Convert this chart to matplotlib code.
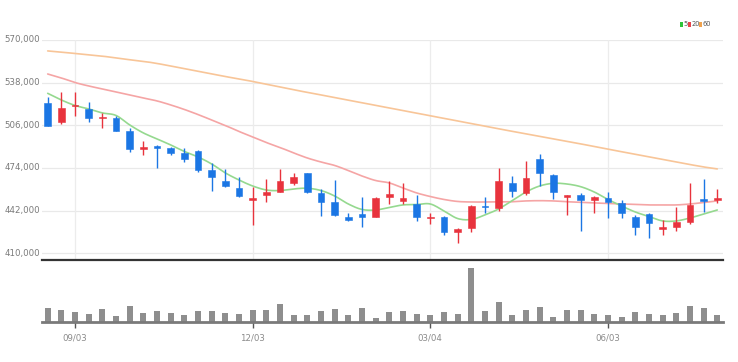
import matplotlib
matplotlib.use("Agg")
import matplotlib.pyplot as plt
import numpy as np
from matplotlib.patches import Rectangle
from matplotlib.transforms import ScaledTranslation

# ---- data (prices in thousands of won, weekly candles) ----
opens = [523.1, 508.3, 520.3, 518.0, 511.3, 511.7, 502.0, 488.0, 490.5, 488.8,
         485.0, 487.0, 472.5, 464.3, 458.8, 450.0, 453.8, 455.8, 463.0, 470.0,
         455.5, 448.3, 437.5, 439.5, 437.5, 452.0, 449.3, 446.8, 436.3, 437.5,
         426.2, 428.8, 445.7, 443.8, 462.5, 455.0, 480.8, 468.8, 452.3, 453.8,
         450.0, 451.7, 448.0, 437.5, 439.5, 428.0, 430.0, 433.7, 450.5, 449.8]
highs = [526.9, 530.8, 530.8, 523.3, 515.0, 512.8, 504.2, 494.3, 490.9, 490.0,
         488.8, 487.5, 477.5, 473.0, 467.5, 460.0, 465.5, 473.0, 470.0, 470.5,
         458.0, 465.0, 440.5, 452.0, 452.3, 464.3, 462.5, 453.8, 440.5, 438.2,
         429.2, 446.0, 452.5, 474.2, 468.0, 479.3, 484.3, 469.3, 453.8, 455.0,
         453.2, 456.2, 450.0, 438.8, 440.0, 435.0, 444.5, 463.0, 465.5, 458.0]
lows = [505.5, 506.8, 513.2, 508.7, 504.2, 501.8, 486.2, 483.8, 473.8, 483.8,
        478.7, 470.8, 457.0, 459.5, 452.5, 431.3, 448.7, 455.8, 461.3, 455.5,
        438.0, 438.0, 434.5, 429.5, 437.3, 446.8, 446.8, 434.3, 431.8, 423.8,
        417.5, 425.8, 440.5, 441.8, 452.0, 453.8, 460.7, 450.8, 438.8, 426.8,
        440.0, 436.7, 436.3, 423.8, 421.7, 423.8, 426.8, 432.0, 441.2, 447.5]
closes = [505.5, 519.2, 521.0, 511.3, 512.5, 502.0, 488.3, 490.0, 489.2, 485.0,
          480.8, 472.5, 467.0, 460.7, 453.0, 451.3, 455.8, 464.5, 467.0, 455.8,
          448.3, 438.8, 435.0, 437.5, 451.7, 454.3, 451.3, 437.5, 437.5, 426.2,
          428.3, 445.7, 444.5, 464.3, 457.0, 466.7, 470.0, 455.8, 453.8, 450.0,
          452.5, 448.3, 440.0, 429.5, 432.5, 429.5, 433.3, 446.3, 449.5, 451.3]
ma5 = [530.0, 525.0, 520.9, 518.3, 515.3, 513.4, 506.3, 500.3, 495.8, 491.3,
       486.4, 482.3, 477.0, 470.3, 465.0, 460.5, 457.5, 457.1, 458.3, 458.8,
       457.1, 453.0, 447.0, 442.9, 442.5, 444.4, 446.3, 446.6, 447.0, 441.8,
       436.1, 435.4, 438.8, 443.3, 449.6, 456.0, 460.5, 462.5, 462.0, 460.0,
       456.0, 450.4, 445.5, 441.0, 437.6, 434.3, 434.3, 436.5, 439.5, 442.5]
ma20 = [544.5, 541.5, 538.1, 535.5, 533.3, 531.0, 528.8, 526.5, 524.3, 521.3,
        517.9, 514.1, 510.0, 505.9, 501.4, 497.3, 493.1, 489.4, 485.3, 481.5,
        478.5, 475.9, 472.1, 468.0, 464.6, 462.8, 459.0, 455.3, 452.6, 450.4,
        448.9, 448.5, 448.5, 448.5, 448.7, 449.3, 449.5, 449.3, 448.7, 448.3,
        447.8, 447.4, 447.0, 446.6, 446.3, 446.3, 446.3, 447.0, 448.1, 449.3]
ma60 = [561.8, 560.9, 559.9, 558.9, 557.9, 556.5, 555.2, 554.0, 552.4, 550.5,
        548.5, 546.5, 544.6, 542.6, 540.8, 538.9, 536.8, 534.8, 532.7, 530.7,
        528.8, 526.8, 524.9, 522.9, 521.0, 519.0, 517.1, 515.1, 513.2, 511.2,
        509.3, 507.3, 505.4, 503.4, 501.5, 499.7, 497.8, 495.9, 494.0, 492.1,
        490.1, 488.1, 486.2, 484.2, 482.3, 480.4, 478.5, 476.6, 474.8, 473.3]
volumes = [43, 36, 30, 25, 40, 18, 47, 27, 32, 27, 22, 32, 32, 27, 25, 37, 37, 55,
           20, 22, 32, 40, 20, 43, 12, 30, 32, 25, 22, 30, 25, 160, 32, 60, 22, 37,
           45, 15, 37, 37, 25, 22, 15, 30, 25, 22, 27, 47, 43, 20]
tick_idx = [2, 15, 28, 41]
tick_labels = ["09/03", "12/03", "03/04", "06/03"]
y_ticks = [410000, 442000, 474000, 506000, 538000, 570000]

UP = "#e8333d"
DOWN = "#1b76e4"
NARROW = ["Liberation Sans Narrow", "DejaVu Sans"]

fig = plt.figure(figsize=(7.38, 3.62), dpi=100)
fig.patch.set_facecolor("white")

ax = fig.add_axes([41.7 / 738, 1 - 260 / 362, (723 - 41.7) / 738, 220 / 362])
axv = fig.add_axes([41.7 / 738, 1 - 322 / 362, (723 - 41.7) / 738, 54 / 362])

n = len(closes)
xs = np.arange(n)
k = 1000.0

# grid
for yv in y_ticks:
    ax.axhline(yv, color="#e9e9e9", lw=0.9, zorder=0)
for ti in tick_idx:
    ax.axvline(ti, color="#ececec", lw=0.9, zorder=0)


def smooth(x, y, m=8):
    x = np.asarray(x, float)
    y = np.asarray(y, float)
    px = np.concatenate([[2 * x[0] - x[1]], x, [2 * x[-1] - x[-2]]])
    py = np.concatenate([[2 * y[0] - y[1]], y, [2 * y[-1] - y[-2]]])
    ox, oy = [], []
    t = np.linspace(0, 1, m, endpoint=False)
    for i in range(1, len(px) - 2):
        for P, out in ((py[i - 1:i + 3], oy), (px[i - 1:i + 3], ox)):
            a, b, c, d = P
            out.extend(0.5 * ((2 * b) + (-a + c) * t + (2 * a - 5 * b + 4 * c - d) * t ** 2
                              + (-a + 3 * b - 3 * c + d) * t ** 3))
    ox.append(x[-1])
    oy.append(y[-1])
    return np.array(ox), np.array(oy)


for series, col in ((ma60, "#f8c598"), (ma20, "#f5a5a5"), (ma5, "#95d98f")):
    sx, sy = smooth(xs, np.array(series) * k)
    ax.plot(sx, sy, color=col, lw=1.2, zorder=2, solid_capstyle="round")

bw = 0.48
for i in range(n):
    o, h, l, c = opens[i] * k, highs[i] * k, lows[i] * k, closes[i] * k
    col = UP if c >= o else DOWN
    ax.vlines(i, l, h, color=col, lw=1.0, zorder=3)
    bot = min(o, c)
    hgt = max(abs(c - o), 900)
    ax.add_patch(Rectangle((i - bw / 2, bot), bw, hgt, facecolor=col,
                           edgecolor=col, lw=0.4, zorder=4))

ax.set_xlim(-0.44, n - 1 + 0.42)
ax.set_ylim(405000, 570000)
ax.set_xticks([])
ax.set_yticks([])
for s in ("top", "left", "right"):
    ax.spines[s].set_visible(False)
ax.spines["bottom"].set_color("#333333")
ax.spines["bottom"].set_linewidth(1.6)

lab_tr = ax.get_yaxis_transform() + ScaledTranslation(-2 / 100, 0, fig.dpi_scale_trans)
for yv in y_ticks:
    ax.text(0, yv, f"{yv:,}", transform=lab_tr, clip_on=False,
            ha="right", va="center", fontsize=6.2, color="#7a7a7a", family=NARROW)

# volume
axv.bar(xs, volumes, width=0.44, color="#8e8e8e", zorder=2)
axv.set_xlim(-0.44, n - 1 + 0.42)
axv.set_ylim(0, 161)
axv.set_yticks([])
for s in ("top", "left", "right"):
    axv.spines[s].set_visible(False)
axv.spines["bottom"].set_color("#7a7a7a")
axv.spines["bottom"].set_linewidth(2.0)
axv.set_xticks(tick_idx)
axv.set_xticklabels(tick_labels, fontsize=6.2, color="#8a8a8a", family=NARROW)
axv.tick_params(axis="x", length=4, width=1.0, color="#555555", pad=4)

# legend
items = [("5", "#2ec43a"), ("20", "#e8434b"), ("60", "#f0a24d")]
xpos = [680, 688, 699]
for (lab, col), xp in zip(items, xpos):
    fig.patches.append(Rectangle((xp / 738, 1 - 26.5 / 362), 2.6 / 738, 4.5 / 362,
                                 transform=fig.transFigure, facecolor=col,
                                 edgecolor="none"))
    fig.text((xp + 3.4) / 738, 1 - 24.3 / 362, lab, fontsize=4.8, color="#555555",
             ha="left", va="center", family=NARROW)

fig.savefig("out.png", dpi=100, facecolor="white")
